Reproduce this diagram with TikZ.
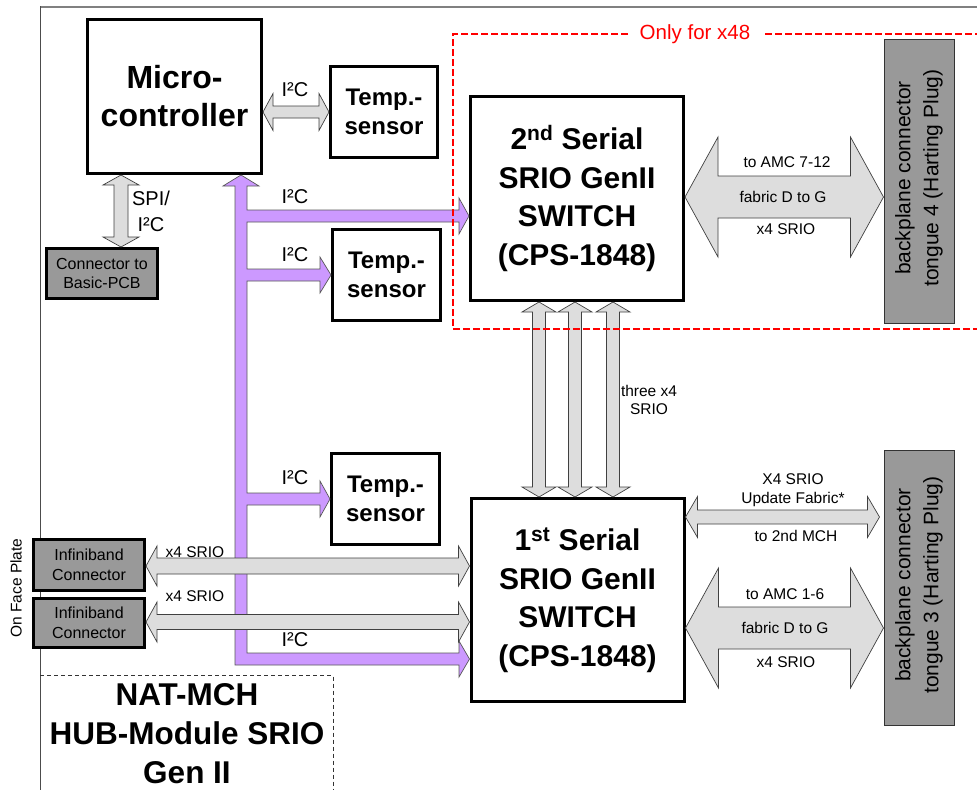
\documentclass[tikz,border=0pt]{standalone}
\usepackage{fontspec}
\setmainfont{Liberation Sans}
\usetikzlibrary{calc}
\definecolor{busp}{HTML}{CC99FF}
\definecolor{arrg}{HTML}{DDDDDD}
\definecolor{boxg}{HTML}{999999}
\definecolor{dred}{HTML}{FF0000}
\newcommand{\fsz}[2]{\fontsize{#1pt}{#2pt}\selectfont}
\newcommand{\HArrow}[6]{\draw[#1] let \p1=#2, \p2=#3 in (\x1,\y1) -- (\x1+#6pt,\y1+#5pt) -- (\x1+#6pt,\y1+#4pt) -- (\x2-#6pt,\y1+#4pt) -- (\x2-#6pt,\y1+#5pt) -- (\x2,\y1) -- (\x2-#6pt,\y1-#5pt) -- (\x2-#6pt,\y1-#4pt) -- (\x1+#6pt,\y1-#4pt) -- (\x1+#6pt,\y1-#5pt) -- cycle;}
\newcommand{\VArrow}[6]{\draw[#1] let \p1=#2, \p2=#3 in (\x1,\y1) -- (\x1+#5pt,\y1-#6pt) -- (\x1+#4pt,\y1-#6pt) -- (\x1+#4pt,\y2+#6pt) -- (\x1+#5pt,\y2+#6pt) -- (\x1,\y2) -- (\x1-#5pt,\y2+#6pt) -- (\x1-#4pt,\y2+#6pt) -- (\x1-#4pt,\y1-#6pt) -- (\x1-#5pt,\y1-#6pt) -- cycle;}
\begin{document}
\begin{tikzpicture}[x=1pt,y=-1pt,
  blk/.style={draw=black, line width=3pt, fill=white, align=center, inner sep=0pt},
  bigtxt/.style={font=\bfseries\fsz{30}{38.5}},
  tmp/.style={blk, minimum width=107pt, minimum height=91pt, font=\bfseries\fsz{24}{29}},
  conn/.style={draw=black, line width=3pt, fill=boxg, align=center, inner sep=0pt, minimum width=111pt, font=\fsz{16}{19.5}},
  tongue/.style={draw=black!80, line width=1pt, fill=boxg, inner sep=0pt, minimum width=70pt},
  ttxt/.style={rotate=90, align=center, font=\fsz{21}{28}},
  lbl/.style={inner sep=0pt, align=center, font=\fsz{15.5}{18.5}},
  ilbl/.style={inner sep=0pt, align=center, font=\fsz{20}{26}},
  garr/.style={draw=black!75, fill=arrg, line width=0.7pt},
  parr/.style={draw=black!65, fill=busp, line width=0.7pt},
  reddash/.style={draw=dred, line width=1.3pt, dash pattern=on 7pt off 3pt}]
\useasboundingbox (0,0) rectangle (977,790);
% frame
\draw[black!50, line width=2pt] (40,6.5) -- (977,6.5);
\draw[black!70, line width=0.8pt] (40,6) -- (40,790);
\draw[black!80, line width=0.8pt, dash pattern=on 4pt off 3pt] (40,675.5) -- (333,675.5) -- (333,790);
\node[inner sep=0pt, align=center, font=\bfseries\fsz{31.5}{39}] (title) at (187,734) {NAT-MCH\\HUB-Module SRIO\\Gen II};
% nodes
\node[blk, minimum width=174pt, minimum height=154pt, font=\bfseries\fsz{32}{38}] (mc) at (174.5,96.5) {Micro-\\controller};
\node[tmp] (t1) at (384,111.5) {Temp.-\\sensor};
\node[tmp, minimum width=108pt] (t2) at (386.5,275) {Temp.-\\sensor};
\node[tmp, minimum width=108pt] (t3) at (385.5,499) {Temp.-\\sensor};
\node[blk, bigtxt, minimum width=213pt, minimum height=204pt] (sw2) at (577,198.5) {2\textsuperscript{nd} Serial\\SRIO GenII\\SWITCH\\(CPS-1848)};
\node[blk, bigtxt, minimum width=213pt, minimum height=203pt] (sw1) at (577.5,600) {1\textsuperscript{st} Serial\\SRIO GenII\\SWITCH\\(CPS-1848)};
\node[conn, minimum height=50pt] (pcb) at (102,273.5) {Connector to\\Basic-PCB};
\node[conn, minimum height=51pt] (ib1) at (89,565) {Infiniband\\Connector};
\node[conn, minimum height=49pt] (ib2) at (89,623) {Infiniband\\Connector};
\node[tongue, minimum height=284pt] (tg4) at (919,181) {};
\node[ttxt] (tg4t) at (919,178) {backplane connector\\tongue 4 (Harting Plug)};
\node[tongue, minimum height=275pt] (tg3) at (919,587.5) {};
\node[ttxt] (tg3t) at (919,585) {backplane connector\\tongue 3 (Harting Plug)};
\node[rotate=90, inner sep=0pt, font=\fsz{15.5}{18}] (face) at (16,588) {On Face Plate};
% purple I2C bus
\draw[parr] (mc.south -| 241,0) -- (259,186) -- (247,186) -- (247,210) -- (459,210) -- (459,198)
  -- (sw2.west |- 0,216) -- (459,234) -- (459,222) -- (247,222) -- (247,269) -- (320,269) -- (320,257)
  -- (t2.west |- 0,275) -- (320,293) -- (320,281) -- (247,281) -- (247,493) -- (320,493) -- (320,481)
  -- (t3.west |- 0,499) -- (320,517) -- (320,505) -- (247,505) -- (247,653) -- (459,653) -- (459,641)
  -- (sw1.west |- 0,659) -- (459,677) -- (459,665) -- (235,665) -- (235,186) -- (223,186) -- cycle;
% gray arrows
\HArrow{garr}{(mc.east |- 0,112)}{(t1.west |- 0,112)}{6}{18.5}{10}
\VArrow{garr}{(mc.south -| 121,0)}{(pcb.north -| 121,0)}{7}{18}{10}
\HArrow{garr}{(sw2.east |- 0,197)}{(tg4.west |- 0,197)}{21}{60}{33}
\HArrow{garr}{(sw1.east |- 0,517)}{($(tg3.west |- 0,517)+(-4,0)$)}{7}{20.5}{12}
\HArrow{garr}{(sw1.east |- 0,628)}{(tg3.west |- 0,628)}{21}{60}{33}
\VArrow{garr}{(sw2.south -| 539,0)}{(sw1.north -| 539,0)}{6.5}{17}{10}
\VArrow{garr}{(sw2.south -| 575,0)}{(sw1.north -| 575,0)}{6.5}{17}{10}
\VArrow{garr}{(sw2.south -| 613,0)}{(sw1.north -| 613,0)}{6.5}{17}{10}
\HArrow{garr}{(ib1.east |- 0,566)}{(sw1.west |- 0,566)}{8}{20}{11}
\HArrow{garr}{(ib2.east |- 0,622)}{(sw1.west |- 0,622)}{7.5}{20}{11}
% labels
\node[ilbl] (l1) at (295,90) {I²C};
\node[ilbl] (l2) at (151,211) {SPI/\\I²C};
\node[ilbl] (l3) at (295,197) {I²C};
\node[ilbl] (l4) at (295,255) {I²C};
\node[ilbl] (l5) at (295,478) {I²C};
\node[ilbl] (l6) at (295,640) {I²C};
\node[lbl] (a1) at (787,162) {to AMC 7-12};
\node[lbl] (a2) at (783,197) {fabric D to G};
\node[lbl] (a3) at (786,229) {x4 SRIO};
\node[lbl] (b1) at (793,490) {X4 SRIO\\Update Fabric*};
\node[lbl] (b2) at (796,536) {to 2nd MCH};
\node[lbl] (c1) at (785,594) {to AMC 1-6};
\node[lbl] (c2) at (785,628) {fabric D to G};
\node[lbl] (c3) at (786,662) {x4 SRIO};
\node[lbl] (d1) at (649,400) {three x4\\SRIO};
\node[lbl] (e1) at (195,552) {x4 SRIO};
\node[lbl] (e2) at (195,596) {x4 SRIO};
% red dashed region
\draw[reddash] (628,34) -- (453,34) -- (453,329) -- (977,329);
\draw[reddash] (765,34) -- (977,34);
\node[text=dred, inner sep=0pt, font=\fsz{20.5}{24}] (only) at (695,34) {Only for x48};
\end{tikzpicture}
\end{document}
